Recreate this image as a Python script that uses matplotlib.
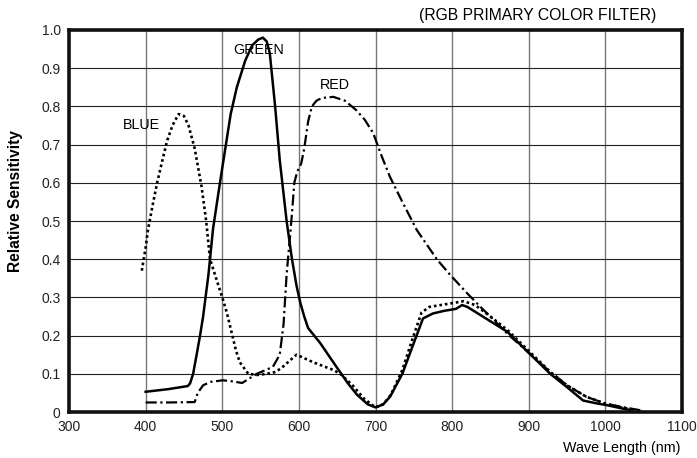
import matplotlib
matplotlib.use("Agg")
import matplotlib.pyplot as plt

plt.rcParams['font.family'] = ['Liberation Sans', 'DejaVu Sans']

# wavelengths (nm) and relative sensitivity
green_wl = [400, 430, 455, 458, 462, 467, 471, 475, 482, 488, 497, 504, 511, 519, 530, 539,
            547, 553, 558, 562, 569, 575, 584, 591, 597, 602, 607, 612, 620, 628, 645, 664,
            676, 690, 700, 710, 719, 735, 748, 762, 775, 790, 805, 813, 820, 840, 872, 900,
            928, 950, 971, 990, 1002, 1020, 1035]
green = [0.053, 0.06, 0.068, 0.075, 0.10, 0.155, 0.20, 0.25, 0.36, 0.48, 0.60, 0.69, 0.78,
         0.85, 0.92, 0.96, 0.975, 0.98, 0.97, 0.94, 0.80, 0.66, 0.50, 0.40, 0.33, 0.285,
         0.25, 0.22, 0.20, 0.18, 0.13, 0.075, 0.045, 0.02, 0.012, 0.02, 0.04, 0.10, 0.17,
         0.245, 0.258, 0.265, 0.27, 0.28, 0.275, 0.25, 0.21, 0.155, 0.10, 0.065, 0.03,
         0.022, 0.018, 0.01, 0.004]

blue_wl = [395, 400, 403, 409, 415, 422, 428, 435, 443, 450, 456, 464, 473, 479, 484, 492,
           500, 506, 512, 518, 523, 534, 546, 558, 570, 580, 590, 597, 608, 619, 632, 645,
           654, 670, 685, 700, 710, 720, 735, 748, 760, 770, 785, 800, 815, 830, 850, 872,
           900, 928, 950, 975, 1000, 1020, 1048]
blue = [0.37, 0.43, 0.476, 0.54, 0.60, 0.66, 0.71, 0.75, 0.78, 0.775, 0.75, 0.69, 0.59, 0.50,
        0.40, 0.35, 0.30, 0.26, 0.21, 0.16, 0.13, 0.10, 0.097, 0.10, 0.105, 0.12, 0.138,
        0.15, 0.14, 0.13, 0.12, 0.11, 0.10, 0.07, 0.035, 0.012, 0.02, 0.045, 0.11, 0.19,
        0.26, 0.275, 0.28, 0.285, 0.29, 0.28, 0.25, 0.215, 0.16, 0.105, 0.07, 0.04, 0.022,
        0.012, 0.002]

red_wl = [400, 430, 464, 468, 475, 485, 501, 514, 526, 545, 566, 575, 580, 584, 588, 591,
          594, 598, 603, 607, 612, 617, 623, 630, 645, 660, 675, 686, 697, 708, 719, 735,
          754, 780, 797, 820, 837, 855, 872, 900, 928, 950, 975, 1000, 1025, 1050]
red = [0.025, 0.025, 0.026, 0.05, 0.07, 0.079, 0.083, 0.08, 0.076, 0.10, 0.118, 0.15, 0.23,
       0.36, 0.45, 0.52, 0.60, 0.63, 0.65, 0.69, 0.76, 0.80, 0.815, 0.822, 0.825, 0.815,
       0.79, 0.765, 0.73, 0.67, 0.615, 0.55, 0.476, 0.40, 0.36, 0.31, 0.275, 0.24, 0.205,
       0.155, 0.105, 0.07, 0.04, 0.022, 0.012, 0.003]

x_ticks = [300, 400, 500, 600, 700, 800, 900, 1000, 1100]
y_ticks = [0, 0.1, 0.2, 0.3, 0.4, 0.5, 0.6, 0.7, 0.8, 0.9, 1.0]
y_labels = ['0', '0.1', '0.2', '0.3', '0.4', '0.5', '0.6', '0.7', '0.8', '0.9', '1.0']

fig = plt.figure(figsize=(6.97, 4.58), dpi=100)
ax = fig.add_axes([0.099, 0.1004, 0.8795, 0.8341])

ax.plot(green_wl, green, color='black', lw=1.8, solid_joinstyle='round')
ax.plot(blue_wl, blue, color='black', lw=1.9, linestyle=(0, (1, 1.1)))
ax.plot(red_wl, red, color='black', lw=1.6, linestyle=(0, (5, 1.6, 1, 1.6)))

ax.set_xlim(300, 1100)
ax.set_ylim(0, 1.0)
ax.set_xticks(x_ticks)
ax.set_yticks(y_ticks)
ax.set_yticklabels(y_labels)
ax.tick_params(length=0, labelsize=10, colors='#222222')
ax.tick_params(axis='x', pad=6)
ax.tick_params(axis='y', pad=6)

ax.xaxis.grid(True, color='#777777', lw=1.0)
ax.yaxis.grid(True, color='#222222', lw=0.8)
ax.set_axisbelow(True)
for s in ax.spines.values():
    s.set_linewidth(2.6)
    s.set_color('#111111')

ax.text(547, 0.948, 'GREEN', ha='center', va='center', fontsize=10.3)
ax.text(647, 0.856, 'RED', ha='center', va='center', fontsize=10.3)
ax.text(395, 0.751, 'BLUE', ha='center', va='center', fontsize=10.3)

fig.text(0.942, 0.967, '(RGB PRIMARY COLOR FILTER)', ha='right', va='center', fontsize=11.3)
fig.text(0.976, 0.022, 'Wave Length (nm)', ha='right', va='center', fontsize=10.3)
fig.text(0.022, 0.561, 'Relative Sensitivity', ha='center', va='center', rotation=90,
         fontsize=11.2, fontweight='bold')

fig.savefig('out.png', dpi=100)
